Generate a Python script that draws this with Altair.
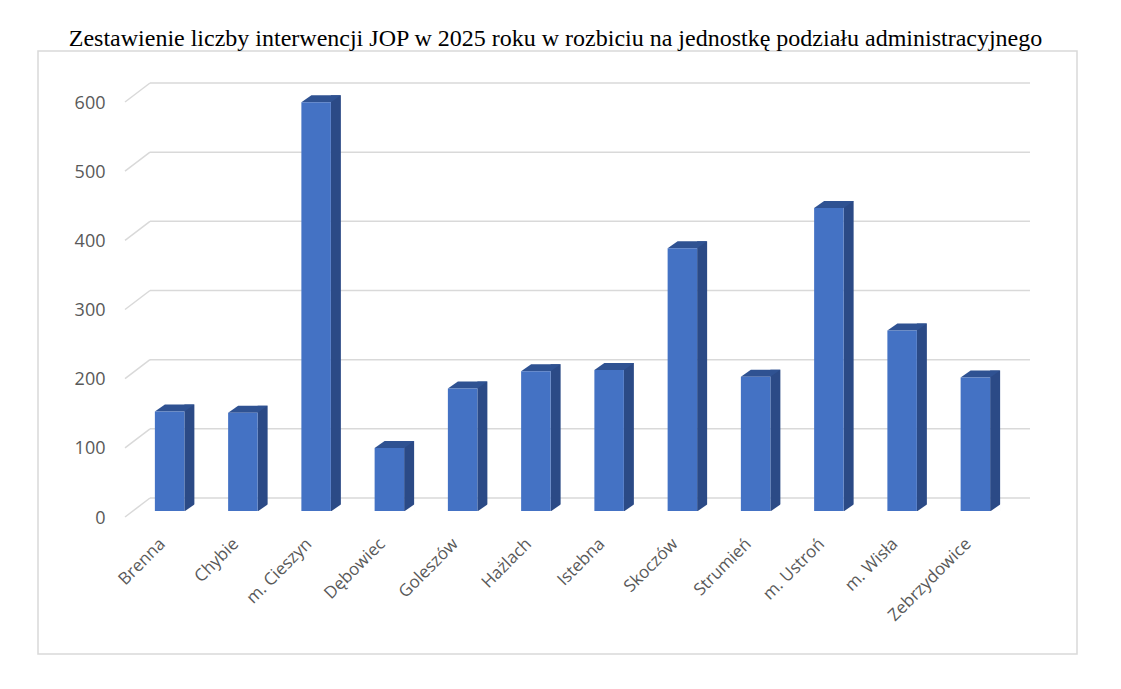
import altair as alt
import pandas as pd

categories = ["Brenna", "Chybie", "m. Cieszyn", "Dębowiec", "Goleszów", "Hażlach",
              "Istebna", "Skoczów", "Strumień", "m. Ustroń", "m. Wisła", "Zebrzydowice"]
values = [144, 142, 591, 91, 177, 202, 204, 380, 194, 438, 261, 193]
tick_values = [0, 100, 200, 300, 400, 500, 600]

df = pd.DataFrame({"gmina": categories, "liczba": values})
grid_df = pd.DataFrame({"v": tick_values})

W, H = 879, 415
xsc = alt.Scale(domain=categories, paddingInner=0, paddingOuter=0)
ysc = alt.Scale(domain=[0, 600], nice=False, zero=True)

FRONT = "#4472C4"
SIDE = "#2B4A86"
TOP = "#2F5292"
GRID = "#D9D9D9"

# back-wall gridlines
grid = alt.Chart(grid_df).mark_rule(color=GRID, strokeWidth=1.5, yOffset=-13).encode(
    y=alt.Y("v:Q", scale=ysc,
            axis=alt.Axis(values=tick_values, grid=False, domain=False, ticks=False,
                          tickSize=0, labelPadding=28, labelOffset=7, labelFontSize=18,
                          labelFont="Open Sans", labelColor="#595959", title=None)),
    x=alt.value(17), x2=alt.value(897),
)
# side-wall diagonals
diag = alt.Chart(grid_df).mark_rule(color=GRID, strokeWidth=1.5, yOffset=6, y2Offset=-13).encode(
    y=alt.Y("v:Q", scale=ysc), y2="v:Q",
    x=alt.value(-8), x2=alt.value(17),
)

xenc = alt.X("gmina:N", scale=xsc, sort=categories,
             axis=alt.Axis(labelAngle=-45, labelAlign="right", labelBaseline="middle",
                           domain=False, ticks=False, tickSize=0, labelPadding=30,
                           labelOffset=-7, labelFontSize=17, labelFont="Open Sans",
                           labelColor="#595959", title=None))

side = alt.Chart(df).mark_bar(color=SIDE, width=10, xOffset=19.75, yOffset=-7, y2Offset=0).encode(
    x=xenc, y=alt.Y("liczba:Q", scale=ysc), y2=alt.datum(0),
)

top_path = "M -0.59 0 L 0.59 0 L 0.99 -0.28 L -0.19 -0.28 Z"
top = alt.Chart(df).mark_point(shape=top_path, size=2500, filled=True, fill=TOP,
                               strokeWidth=0, opacity=1).encode(
    x=alt.X("gmina:N", scale=xsc, sort=categories),
    y=alt.Y("liczba:Q", scale=ysc),
)

tri_path = "M 0.59 0.02 L 1.02 0.02 L 1.02 -0.28 Z"
tri = alt.Chart(df).mark_point(shape=tri_path, size=2500, filled=True, fill="white",
                               strokeWidth=0, opacity=1).encode(
    x=alt.X("gmina:N", scale=xsc, sort=categories),
    y=alt.Y("zero:Q", scale=ysc),
).transform_calculate(zero="0")

front = alt.Chart(df).mark_bar(color=FRONT, width=29.5).encode(
    x=alt.X("gmina:N", scale=xsc, sort=categories),
    y=alt.Y("liczba:Q", scale=ysc),
)

frame = alt.Chart(df).mark_rect(fill=None, stroke=GRID, strokeWidth=1.5).encode(
    x=alt.value(-95), x2=alt.value(944), y=alt.value(-45), y2=alt.value(558),
).transform_aggregate(n="count()")

chart = alt.layer(frame, grid, diag, side, top, tri, front).properties(
    width=W, height=H,
    background="white",
    title=alt.TitleParams(
        "Zestawienie liczby interwencji JOP w 2025 roku w rozbiciu na jednostkę podziału administracyjnego",
        font="Liberation Serif", fontSize=24, fontWeight="normal", color="black",
        anchor="middle", dx=-17, dy=6, offset=5),
    autosize=alt.AutoSizeParams(type="none"),
    padding={"left": 125, "top": 88, "right": 100, "bottom": 160},
).configure_view(strokeWidth=0)

chart.save("out.html", embed_options={"renderer": "svg", "actions": False})
